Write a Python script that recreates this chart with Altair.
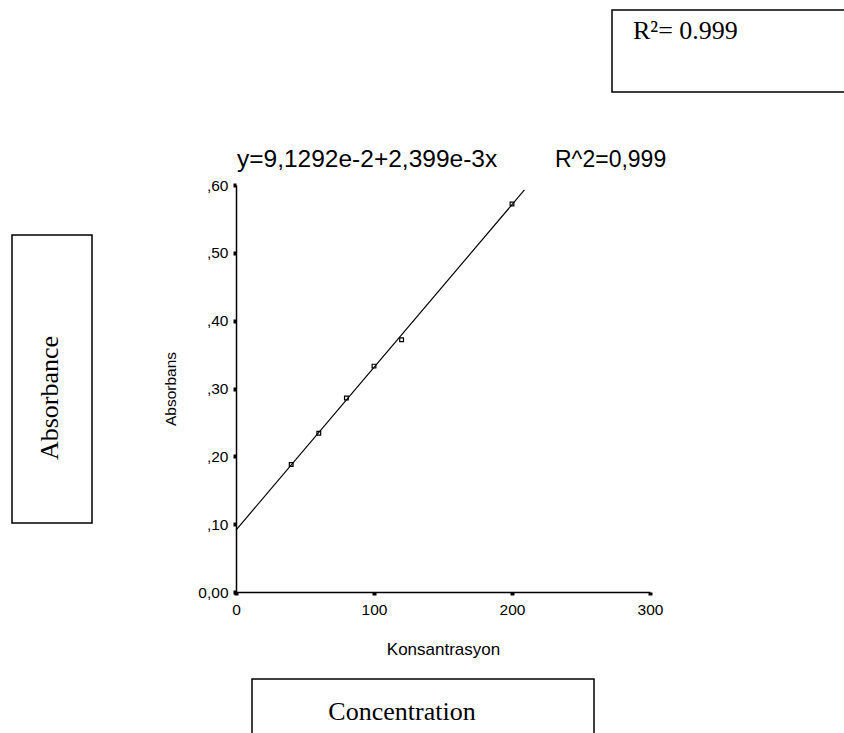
import altair as alt
import pandas as pd

# ---- data ----
konsantrasyon = [40, 60, 80, 100, 120, 200]
absorbans = [0.188, 0.234, 0.286, 0.333, 0.372, 0.572]

# fitted line y = 9.1292e-2 + 2.399e-3 x, drawn from x = 0 to where it stops
fit_intercept = 0.091292
fit_slope = 0.002399
fit_x = [0, 209]

x_ticks = [0, 100, 200, 300]
y_ticks = [0.0, 0.1, 0.2, 0.3, 0.4, 0.5, 0.6]

equation_text = "y=9,1292e-2+2,399e-3x"
r2_text = "R^2=0,999"
box_r2_text = "R²= 0.999"
box_y_text = "Absorbance"
box_x_text = "Concentration"
x_title = "Konsantrasyon"
y_title = "Absorbans"

pts = pd.DataFrame({"x": konsantrasyon, "y": absorbans})
fit = pd.DataFrame({"x": fit_x, "y": [fit_intercept + fit_slope * v for v in fit_x]})

W, H = 414, 407
SANS = "Liberation Sans"
SERIF = "Liberation Serif"

xscale = alt.Scale(domain=[0, 300], nice=False)
yscale = alt.Scale(domain=[0, 0.6], nice=False)

xaxis = alt.Axis(values=x_ticks, grid=False, title=x_title, labelFont=SANS, labelFontSize=15.5,
                 labelColor="black", labelPadding=7, labelFlush=False, labelOverlap=False,
                 tickSize=3, tickWidth=4, tickColor="black",
                 domainColor="black", domainWidth=1.5, titleFont=SANS, titleFontSize=17,
                 titleFontWeight="normal", titleColor="black", titleBaseline="alphabetic",
                 titleY=62)
yaxis = alt.Axis(values=y_ticks, grid=False, title=y_title, labelFont=SANS, labelFontSize=15.5,
                 labelColor="black", labelPadding=5, labelFlush=False, labelOverlap=False,
                 tickSize=3, tickWidth=4, tickColor="black",
                 domainColor="black", domainWidth=1.5, titleFont=SANS, titleFontSize=15.5,
                 titleFontWeight="normal", titleColor="black",
                 labelExpr="datum.value == 0 ? '0,00' : replace(format(datum.value, '.2f'), '0.', ',')",
                 titleX=-61, titleBaseline="alphabetic")

line = alt.Chart(fit).mark_line(color="black", strokeWidth=1.2).encode(
    x=alt.X("x:Q", scale=xscale, axis=xaxis),
    y=alt.Y("y:Q", scale=yscale, axis=yaxis),
)
points = alt.Chart(pts).mark_point(shape="square", size=14, filled=False, color="black",
                                   strokeWidth=1.2, opacity=1).encode(
    x=alt.X("x:Q", scale=xscale),
    y=alt.Y("y:Q", scale=yscale),
)

one = alt.Data(values=[{"a": 1}])

def label(text, x, y, font, size, align="left", baseline="alphabetic", angle=0):
    return alt.Chart(one).mark_text(text=text, font=font, fontSize=size, align=align,
                                    baseline=baseline, angle=angle, color="black").encode(
        x=alt.value(x), y=alt.value(y))

def box(x1, x2, y1, y2):
    return alt.Chart(one).mark_rect(fill="white", fillOpacity=0, stroke="black",
                                    strokeWidth=1.5).encode(
        x=alt.value(x1), x2=alt.value(x2), y=alt.value(y1), y2=alt.value(y2))

layers = [
    box(376, 640, -175, -93),
    box(-224, -144, 50, 338),
    box(16, 358, 494, 560),
    line, points,
    label(equation_text, 1, -18, SANS, 24.5),
    label(r2_text, 319, -18, SANS, 23),
    label(box_r2_text, 397, -146, SERIF, 26),
    label(box_y_text, -186, 213, SERIF, 26, align="center", baseline="middle", angle=270),
    label(box_x_text, 166, 535, SERIF, 26, align="center"),
]

chart = alt.layer(*layers).properties(
    width=W, height=H,
    padding={"left": 236, "top": 185, "right": 194, "bottom": 141},
    autosize=alt.AutoSizeParams(type="none"),
    background="white",
).configure_view(stroke=None)

chart.save("out.html", embed_options={"renderer": "svg", "actions": False})
